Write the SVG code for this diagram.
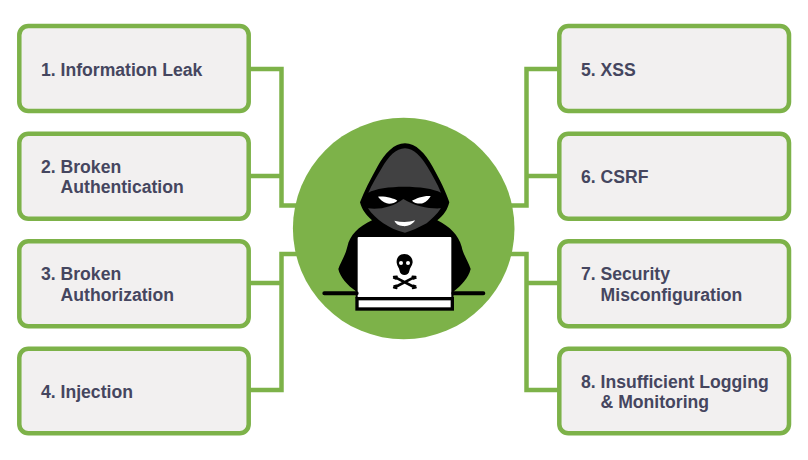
<svg xmlns="http://www.w3.org/2000/svg" width="808" height="460" viewBox="0 0 808 460">
<style>
.box{fill:#f2f0f0;stroke:#7db249;stroke-width:4.500}
.c{fill:none;stroke:#7db249;stroke-width:4.500}
text{font-family:"Liberation Sans",Arial,sans-serif;font-weight:700;font-size:17.600px;fill:#45465f}
</style>
<rect width="808" height="460" fill="#fff"/>
<g id="connectors">
<path class="c" d="M249 69H281.500V205.500H300M249 176H281.500"/>
<path class="c" d="M249 390H281.500V254H300M249 283H281.500"/>
<path class="c" d="M558 69H526.500V205.500H508M558 176H526.500"/>
<path class="c" d="M558 390H526.500V254H508M558 283H526.500"/>
</g>
<g id="node1"><rect class="box" x="19.300" y="26" width="229.400" height="85" rx="9"/><text x="41" y="75.500">1. Information Leak</text></g>
<g id="node2"><rect class="box" x="19.300" y="133.700" width="229.400" height="85" rx="9"/><text x="41" y="172.500">2. Broken</text><text x="60.600" y="193">Authentication</text></g>
<g id="node3"><rect class="box" x="19.300" y="241.300" width="229.400" height="85" rx="9"/><text x="41" y="280">3. Broken</text><text x="60.600" y="300.500">Authorization</text></g>
<g id="node4"><rect class="box" x="19.300" y="348.700" width="229.400" height="84.500" rx="9"/><text x="41" y="397.500">4. Injection</text></g>
<g id="node5"><rect class="box" x="559.300" y="26" width="229.700" height="85" rx="9"/><text x="581" y="75.500">5. XSS</text></g>
<g id="node6"><rect class="box" x="559.300" y="133.700" width="229.700" height="85" rx="9"/><text x="581" y="182.500">6. CSRF</text></g>
<g id="node7"><rect class="box" x="559.300" y="241.300" width="229.700" height="85" rx="9"/><text x="581" y="280">7. Security</text><text x="600.600" y="300.500">Misconfiguration</text></g>
<g id="node8"><rect class="box" x="559.300" y="348.700" width="229.700" height="84.500" rx="9"/><text x="581" y="387.500">8. Insufficient Logging</text><text x="600.600" y="408">&amp; Monitoring</text></g>
<g id="hacker">
<circle cx="403.700" cy="228.500" r="110.800" fill="#7db249"/>
<g transform="translate(290 115) scale(.33333)">
<path d="M345 85C312 85 285 115 262 155C240 195 222 230 210 262C216 285 228 300 246 316C205 335 180 360 172 395C165 425 150 445 145 462C150 485 170 510 200 530L200 545H490V530C515 510 535 490 542 462C535 440 520 420 515 395C505 360 480 335 442 316C462 300 472 285 478 262C468 230 450 195 428 155C405 115 378 85 345 85Z" fill="#000"/>
<path d="M345 100C318 100 295 125 275 160C260 185 245 210 235 233C275 209 410 209 453 233C442 205 428 182 412 155C393 125 372 100 345 100Z" fill="#414142"/>
<path d="M234 280C270 285 310 275 340 252C375 275 420 282 453 280C440 300 425 312 410 325C385 338 365 348 345 353C320 348 300 338 280 325C262 312 245 298 234 280Z" fill="#414142"/>
<path d="M264 245C285 243 312 250 322 257C315 265 298 268 290 265C280 262 270 253 264 245Z" fill="#fff"/>
<path d="M422 243C402 241 378 250 366 257C372 265 392 268 400 264C410 260 418 251 422 243Z" fill="#fff"/>
<path d="M313 317C335 322 355 322 375 316C368 330 350 335 338 333C325 332 317 326 313 317Z" fill="#fff"/>
<rect x="200" y="363" width="287" height="190" rx="6" fill="#fff" stroke="#000" stroke-width="6"/>
<rect x="201" y="551" width="286" height="31" fill="#fff" stroke="#000" stroke-width="10"/>
<path d="M103 535H200M490 535H580" stroke="#000" stroke-width="12" stroke-linecap="round" fill="none"/>
<path d="M343 417C326 417 319 430 320 443C321 453 328 458 329 468C331 484 356 484 358 468C359 458 367 453 368 442C368 430 360 417 343 417Z" fill="#000"/>
<circle cx="333" cy="444" r="6" fill="#fff"/>
<circle cx="354" cy="444" r="6" fill="#fff"/>
<path d="M316 487L372 516M372 487L316 516" stroke="#000" stroke-width="8" stroke-linecap="round"/>
<path d="M311 485L321 484M311 489L318 492M377 485L367 484M378 489L370 492M311 518L320 520M312 513L319 511M378 518L368 520M377 513L370 511" stroke="#000" stroke-width="5" stroke-linecap="round"/>
</g>
</g>
</svg>
